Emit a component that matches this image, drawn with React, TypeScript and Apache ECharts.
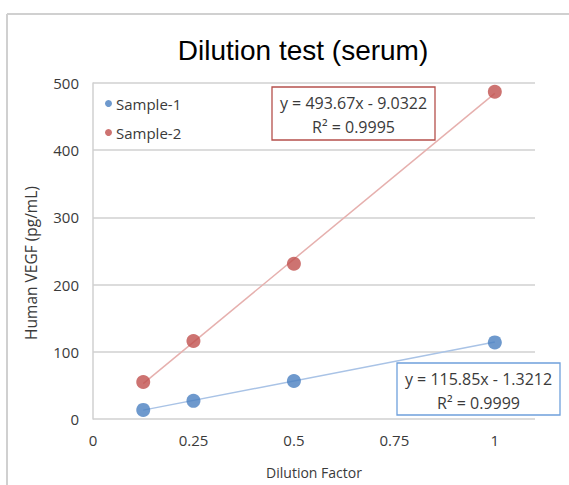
import React, { useEffect, useRef } from "react";
import * as echarts from "echarts";

const dilution = [0.125, 0.25, 0.5, 1];
const sample1 = [13.5, 27, 56.5, 114];
const sample2 = [55, 116, 231, 487];
const trend1 = [[0.125, 13.2], [1, 114.5]];
const trend2 = [[0.125, 52.7], [1, 484.6]];
const yTicks = [0, 100, 200, 300, 400, 500];
const eq1 = ["y = 115.85x - 1.3212", "R² = 0.9999"];
const eq2 = ["y = 493.67x - 9.0322", "R² = 0.9995"];

const BLUE = "#4a7fc1";
const RED = "#c0504d";
const FONT = "'Open Sans', 'DejaVu Sans', sans-serif";
const TXT = "#3a3a3a";

export default function App() {
  const ref = useRef<HTMLDivElement>(null);
  useEffect(() => {
    const chart = echarts.init(ref.current!, undefined, { renderer: "svg" });
    const box = (x: number, y: number, w: number, h: number, color: string, lines: string[]) => ({
      type: "group",
      x,
      y,
      children: [
        { type: "rect", shape: { x: 0, y: 0, width: w, height: h }, style: { fill: "#fff", stroke: color, lineWidth: 1.3 } },
        { type: "text", x: w / 2, y: 16, style: { text: lines[0], fill: TXT, font: `16px ${FONT}`, align: "center", verticalAlign: "middle" } },
        { type: "text", x: w / 2, y: 40, style: { text: lines[1], fill: TXT, font: `16px ${FONT}`, align: "center", verticalAlign: "middle" } },
      ],
    });
    chart.setOption({
      animation: false,
      title: {
        text: "Dilution test (serum)",
        left: 298,
        textAlign: "center",
        top: 31,
        textStyle: { fontFamily: "'Liberation Sans', Arial, sans-serif", fontSize: 28, fontWeight: "normal", color: "#000" },
      },
      grid: { left: 93, right: 34, top: 83, bottom: 66 },
      legend: {
        data: ["Sample-1", "Sample-2"],
        orient: "vertical",
        left: 99,
        top: 94,
        icon: "circle",
        itemWidth: 7,
        itemHeight: 7,
        itemGap: 14,
        padding: [2, 6, 2, 6],
        backgroundColor: "#fff",
        textStyle: { fontFamily: FONT, fontSize: 15, color: TXT, padding: [0, 0, 0, -1] },
      },
      xAxis: {
        type: "value",
        min: 0,
        max: 1.1,
        interval: 0.25,
        name: "Dilution Factor",
        nameLocation: "middle",
        nameGap: 46,
        nameTextStyle: { fontFamily: FONT, fontSize: 14, color: TXT },
        axisLine: { show: false },
        axisTick: { show: false },
        splitLine: { show: false },
        axisLabel: { showMaxLabel: false, fontFamily: FONT, fontSize: 15, color: TXT, margin: 13 },
      },
      yAxis: {
        type: "value",
        min: yTicks[0],
        max: yTicks[yTicks.length - 1],
        interval: 100,
        axisLine: { show: true, lineStyle: { color: "#d0d0d0", width: 1.5 } },
        axisTick: { show: false },
        splitLine: { lineStyle: { color: "#d0d0d0", width: 1.5 } },
        axisLabel: { fontFamily: FONT, fontSize: 15, color: TXT, margin: 14 },
      },
      series: [
        {
          name: "trend1",
          type: "line",
          data: trend1,
          symbol: "none",
          lineStyle: { color: "#a9c3e6", width: 1.5 },
          z: 1,
        },
        {
          name: "trend2",
          type: "line",
          data: trend2,
          symbol: "none",
          lineStyle: { color: "#e6b0ae", width: 1.5 },
          z: 1,
        },
        {
          name: "Sample-1",
          type: "scatter",
          data: dilution.map((d, i) => [d, sample1[i]]),
          symbolSize: 14,
          itemStyle: { color: BLUE },
          z: 3,
        },
        {
          name: "Sample-2",
          type: "scatter",
          data: dilution.map((d, i) => [d, sample2[i]]),
          symbolSize: 14,
          itemStyle: { color: RED },
          z: 3,
        },
      ],
      graphic: [
        { type: "line", shape: { x1: 7, y1: 14, x2: 569, y2: 14 }, style: { stroke: "#d0d0d0", lineWidth: 2 } },
        { type: "line", shape: { x1: 7, y1: 14, x2: 7, y2: 485 }, style: { stroke: "#d0d0d0", lineWidth: 2 } },
        {
          type: "text",
          x: 31,
          y: 263,
          rotation: Math.PI / 2,
          style: { text: "Human VEGF (pg/mL)", fill: TXT, font: `15.5px ${FONT}`, align: "center", verticalAlign: "middle" },
        },
        box(272, 87, 163, 53, "#b5504c", eq2),
        box(397, 363, 163, 52, "#6fa0dc", eq1),
      ],
    });
    return () => chart.dispose();
  }, []);
  return <div ref={ref} style={{ position: "fixed", left: 0, top: 0, width: 569, height: 485, background: "#fff" }} />;
}
